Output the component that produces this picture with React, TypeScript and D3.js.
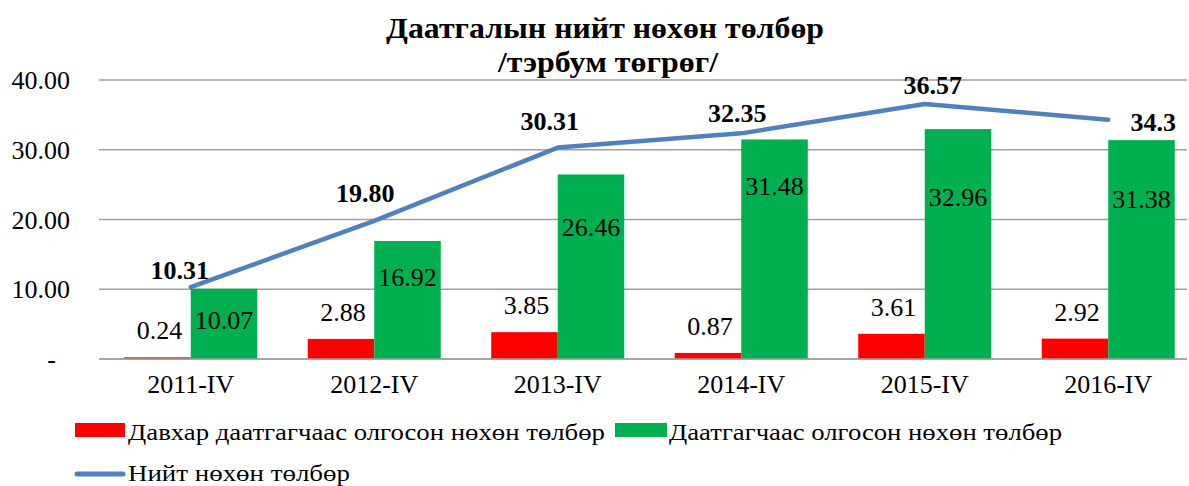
import * as d3 from "d3";

const W = 1189;
const H = 486;
const FONT = "'Liberation Serif', 'Times New Roman', serif";

const years = ["2011-IV", "2012-IV", "2013-IV", "2014-IV", "2015-IV", "2016-IV"];
const reinsurer = [0.24, 2.88, 3.85, 0.87, 3.61, 2.92];
const insurer = [10.07, 16.92, 26.46, 31.48, 32.96, 31.38];
const total = [10.31, 19.8, 30.31, 32.35, 36.57, 34.3];
const totalText = ["10.31", "19.80", "30.31", "32.35", "36.57", "34.3"];
const yTicks = [0, 10, 20, 30, 40];

// hand-placed label nudges, as in the source chart
const insurerLabelDy = [31, 36, 52, 46, 68, 59];
const totalLabelDx = [-11, -9, -8, -4, 8, 45];
const totalLabelDy = [-17, -28, -27, -20, -19, 2];

const RED = "#ff0000";
const GREEN = "#00b050";
const BLUE = "#4f81bd";
const GRID = "#a0a0a0";

export default function App() {
  const x = d3.scaleBand<string>()
    .domain(years)
    .range([99, 1200])
    .paddingInner(0.275)
    .paddingOuter(0.1375);
  const y = d3.scaleLinear().domain([0, 40]).range([359, 80]);
  const bw = x.bandwidth() / 2;
  const cx = (d: string) => (x(d) ?? 0) + bw;

  const line = d3.line<number>()
    .x((_, i) => cx(years[i]))
    .y(d => y(d));

  return (
    <svg width={W} height={H} style={{ display: "block", position: "absolute", left: 0, top: 0, fontFamily: FONT }}>
      <rect width={W} height={H} fill="#fff" />
      <text x={605} y={38} textAnchor="middle" fontSize={30} fontWeight="bold"
        textLength={438} lengthAdjust="spacingAndGlyphs">Даатгалын нийт нөхөн төлбөр</text>
      <text x={608} y={72} textAnchor="middle" fontSize={30} fontWeight="bold"
        textLength={220} lengthAdjust="spacingAndGlyphs">/тэрбум төгрөг/</text>

      {yTicks.map(t => (
        <g key={t}>
          <line x1={99} x2={1187} y1={y(t)} y2={y(t)} stroke={GRID} strokeWidth={1.6} />
          <text x={t === 0 ? 56 : 70} y={y(t)} dy="0.35em" textAnchor="end" fontSize={26}>
            {t === 0 ? "-" : d3.format(".2f")(t)}
          </text>
        </g>
      ))}

      {years.map((yr, i) => (
        <g key={yr}>
          <rect x={x(yr)} y={y(reinsurer[i])} width={bw} height={y(0) - y(reinsurer[i])} fill={RED} />
          <rect x={cx(yr)} y={y(insurer[i])} width={bw} height={y(0) - y(insurer[i])} fill={GREEN} />
          <text x={(x(yr) ?? 0) + bw / 2 + 2} y={y(reinsurer[i]) - 27} dy="0.35em" textAnchor="middle"
            fontSize={26}>{reinsurer[i].toFixed(2)}</text>
          <text x={cx(yr) + bw / 2} y={y(insurer[i]) + insurerLabelDy[i]} dy="0.35em" textAnchor="middle"
            fontSize={26}>{insurer[i].toFixed(2)}</text>
          <text x={cx(yr)} y={393} textAnchor="middle" fontSize={26}>{yr}</text>
        </g>
      ))}
      <line x1={99} x2={1187} y1={y(0)} y2={y(0)} stroke={GRID} strokeWidth={1.6} />

      <path d={line(total) ?? ""} fill="none" stroke={BLUE} strokeWidth={4.5} strokeLinecap="round"
        strokeLinejoin="round" />
      {total.map((v, i) => (
        <text key={i} x={cx(years[i]) + totalLabelDx[i]} y={y(v) + totalLabelDy[i]} dy="0.35em"
          textAnchor="middle" fontSize={26} fontWeight="bold">{totalText[i]}</text>
      ))}

      <rect x={75} y={423} width={50} height={14} fill={RED} />
      <text x={128} y={440} fontSize={24} textLength={477} lengthAdjust="spacingAndGlyphs">
        Давхар даатгагчаас олгосон нөхөн төлбөр
      </text>
      <rect x={615} y={423} width={52} height={14} fill={GREEN} />
      <text x={669} y={440} fontSize={24} textLength={393} lengthAdjust="spacingAndGlyphs">
        Даатгагчаас олгосон нөхөн төлбөр
      </text>
      <line x1={77} x2={123} y1={474} y2={474} stroke={BLUE} strokeWidth={5} strokeLinecap="round" />
      <text x={128} y={481} fontSize={24} textLength={222} lengthAdjust="spacingAndGlyphs">
        Нийт нөхөн төлбөр
      </text>
    </svg>
  );
}
